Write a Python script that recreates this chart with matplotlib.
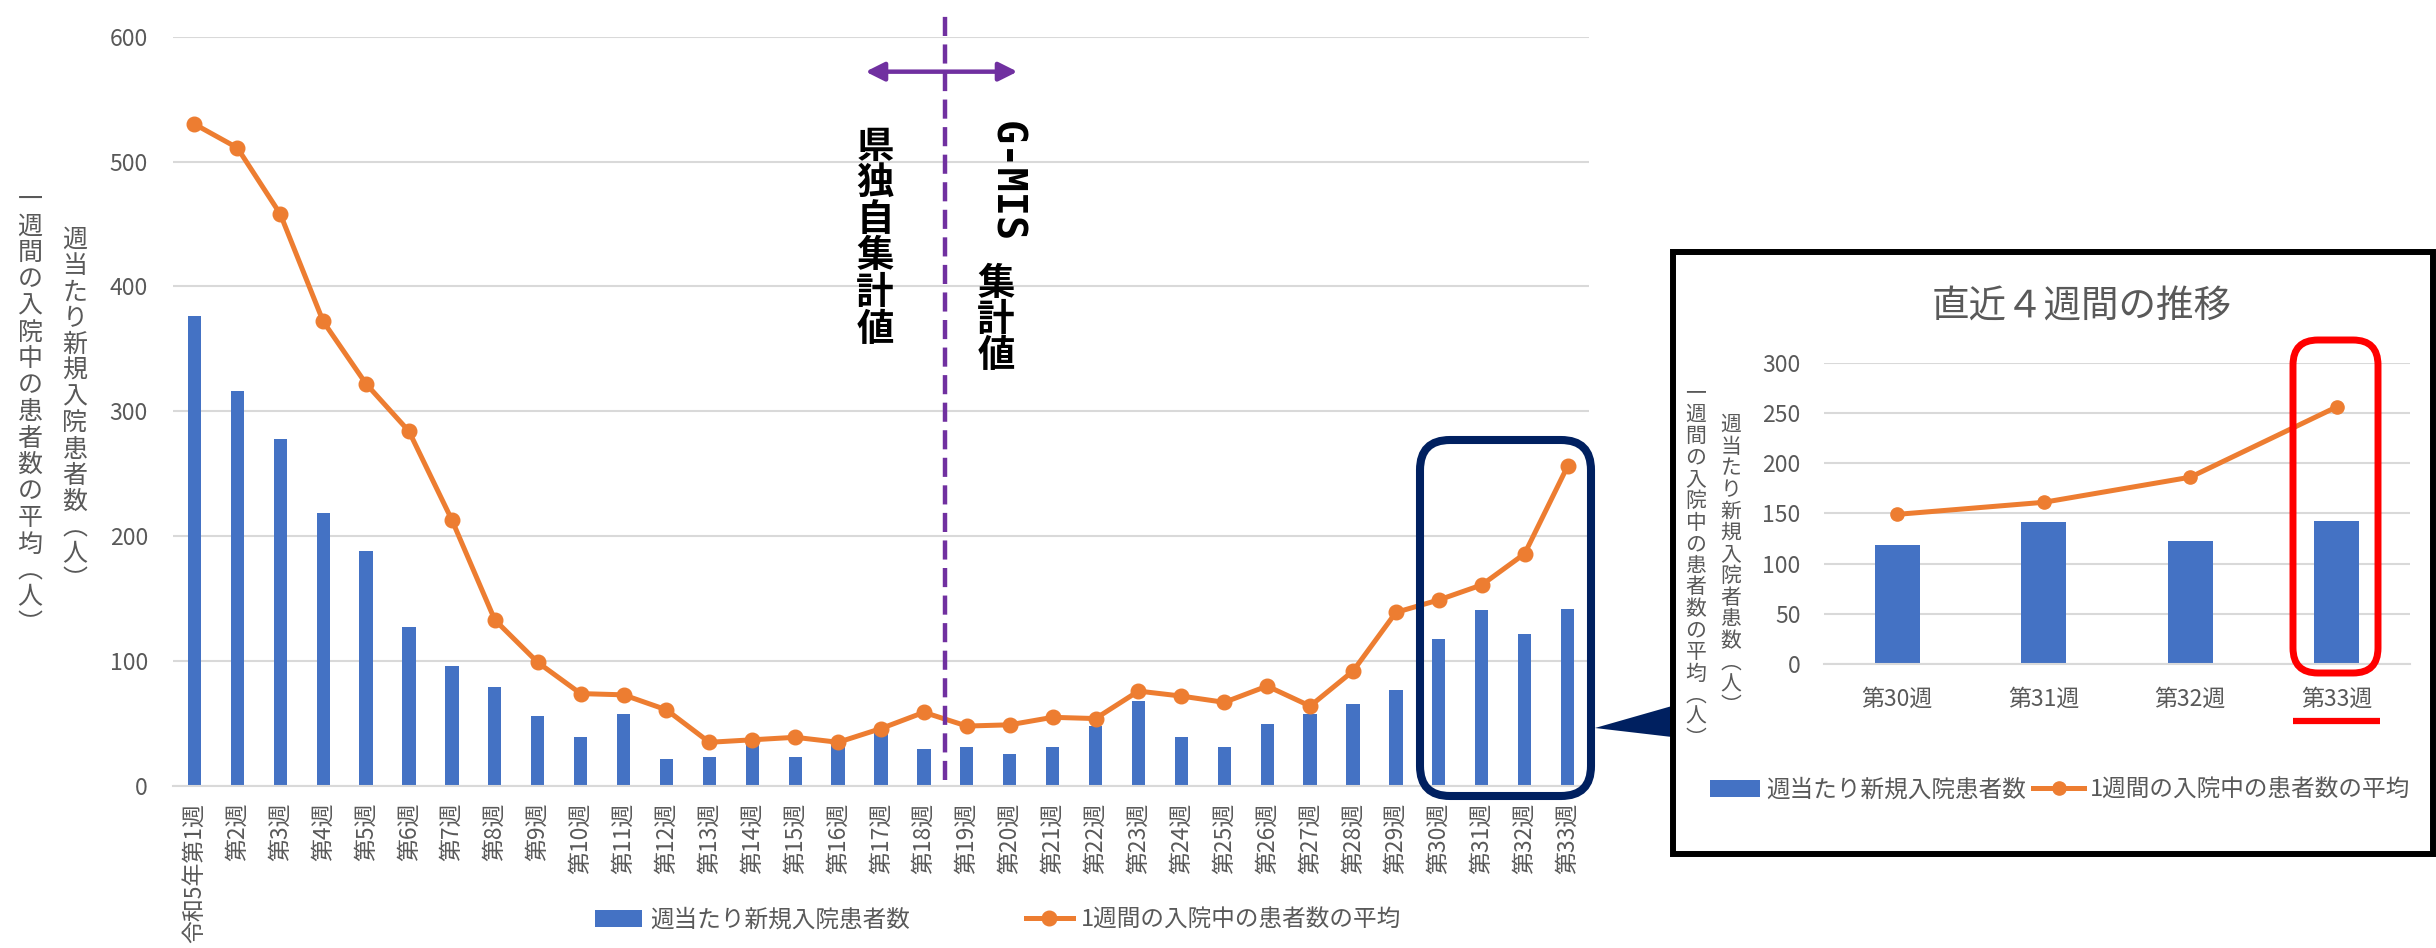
import matplotlib
matplotlib.use("Agg")
import matplotlib.pyplot as plt
from matplotlib.patches import FancyBboxPatch, Rectangle, Polygon
from matplotlib.lines import Line2D

plt.rcParams['font.family'] = ['Noto Sans CJK JP', 'DejaVu Sans']

# データ
weeks = ['令和5年第1週'] + ['第%d週' % i for i in range(2, 34)]
new_adm = [376, 316, 278, 219, 188, 127, 96, 79, 56, 39, 58, 22, 23, 34, 23, 33,
           43, 30, 31, 26, 31, 48, 68, 39, 31, 50, 58, 66, 77, 118, 141, 122, 142]
avg_inp = [530, 511, 458, 372, 322, 284, 213, 133, 99, 74, 73, 61, 35, 37, 39, 35,
           46, 59, 48, 49, 55, 54, 76, 72, 67, 80, 64, 92, 139, 149, 161, 186, 256]
bar_name = '週当たり新規入院患者数'
line_name = '1週間の入院中の患者数の平均'
ylab_bar = '週当たり新規入院患者数（人）'
ylab_line = '一週間の入院中の患者数の平均（人）'
ylab_bar_inset = '週当たり新規入院者患数（人）'   # 原図のまま
inset_title = '直近４週間の推移'
split_week = 17.5   # 第18週と第19週の間

BLUE = '#4472C4'
ORANGE = '#ED7D31'
GRAY = '#595959'
GRID = '#D9D9D9'
PURPLE = '#7030A0'
NAVY = '#002060'

W, H = 2436, 948
fig = plt.figure(figsize=(W / 100, H / 100), dpi=100)


def px_axes(x0, y0, x1, y1):
    # ピクセル(上原点)で軸を作る
    return fig.add_axes([x0 / W, 1 - y1 / H, (x1 - x0) / W, (y1 - y0) / H])


def style_ax(ax, size, ypad, xpad):
    for s in ['top', 'right', 'left']:
        ax.spines[s].set_visible(False)
    ax.spines['bottom'].set_color(GRID)
    ax.spines['bottom'].set_linewidth(1.5)
    ax.yaxis.grid(True, color=GRID, lw=1.5)
    ax.set_axisbelow(True)
    ax.tick_params(axis='y', length=0, pad=ypad, labelsize=size, labelcolor=GRAY)
    ax.tick_params(axis='x', length=0, pad=xpad, labelsize=size, labelcolor=GRAY)


# ---- メインのグラフ
ax = px_axes(173, 36.7, 1589, 786)
ax.set_zorder(1)
x = list(range(len(weeks)))
b1 = ax.bar(x, new_adm, width=0.31, color=BLUE, zorder=2, label=bar_name)
p1, = ax.plot(x, avg_inp, color=ORANGE, lw=3.6, marker='o', ms=10.5, zorder=3,
              clip_on=False, label=line_name)
ax.set_xlim(-0.5, len(weeks) - 0.5)
ax.set_ylim(0, 600)
ax.set_yticks(range(0, 601, 100))
ax.set_xticks(x)
ax.set_xticklabels(weeks, rotation=90)
style_ax(ax, 16.5, 18, 12)

# 集計方法の切替線
ax.plot([split_week, split_week], [5, 621], color=PURPLE, lw=3.2,
        linestyle=(0, (4.3, 1.9)), clip_on=False, zorder=4)
ax.annotate('', xy=(split_week - 1.86, 572), xytext=(split_week + 1.68, 572),
            arrowprops=dict(arrowstyle='<|-|>', color=PURPLE, lw=3.2,
                            mutation_scale=28, shrinkA=0, shrinkB=0),
            annotation_clip=False)

fig.legend([b1, p1], [bar_name, line_name], loc='center',
           bbox_to_anchor=(998 / W, 1 - 920 / H), ncol=2,
           frameon=False, fontsize=17, handlelength=2.0, handletextpad=0.35,
           columnspacing=4.9, labelcolor=GRAY)

# ---- 直近4週間
n4 = 4
ax2 = px_axes(1824, 362.7, 2410, 664)
ax2.set_zorder(2)
x2 = list(range(n4))
b2 = ax2.bar(x2, new_adm[-n4:], width=0.31, color=BLUE, zorder=2, label=bar_name)
p2, = ax2.plot(x2, avg_inp[-n4:], color=ORANGE, lw=3.6, marker='o', ms=9.5,
               zorder=3, clip_on=False, label=line_name)
ax2.set_xlim(-0.5, n4 - 0.5)
ax2.set_ylim(0, 300)
ax2.set_yticks(range(0, 301, 50))
ax2.set_xticks(x2)
ax2.set_xticklabels(weeks[-n4:])
style_ax(ax2, 16.5, 17, 17)

fig.legend([b2, p2], [bar_name, line_name], loc='center',
           bbox_to_anchor=(2060 / W, 1 - 790 / H), ncol=2,
           frameon=False, fontsize=17, handlelength=2.15, handletextpad=0.25,
           columnspacing=0.3, labelcolor=GRAY)

# ---- 注記用の重ね書き(ピクセル座標)
ov = fig.add_axes([0, 0, 1, 1])
ov.set_zorder(3)
ov.set_xlim(0, W)
ov.set_ylim(H, 0)
ov.axis('off')

vert = {'（': '︵', '）': '︶'}


def vtext(xc, y0, s, pitch, **kw):
    # 縦書き(一文字ずつ)
    for i, ch in enumerate(s):
        ov.text(xc, y0 + i * pitch, vert.get(ch, ch), ha='center', va='center', **kw)


vtext(30, 200, ylab_line, 26.5, fontsize=18, color=GRAY)
vtext(75, 240, ylab_bar, 26.2, fontsize=18, color=GRAY)

vtext(875, 146, '県独自集計値', 36.6, fontsize=27, fontweight='bold', color='black')
ov.text(1006, 182, 'G-MIS', rotation=-90, ha='center', va='center',
        fontsize=29, fontweight='bold', family='DejaVu Sans Mono', color='black')
vtext(996, 283, '集計値', 36, fontsize=27, fontweight='bold', color='black')

# 直近4週を囲む枠と吹き出し
ov.add_patch(FancyBboxPatch((1420, 440), 171, 356,
                            boxstyle='round,pad=0,rounding_size=30',
                            fc='none', ec=NAVY, lw=5.8))
ov.add_patch(Polygon([(1595, 728), (1672, 706), (1672, 737)], closed=True,
                     fc=NAVY, ec='none'))
ov.add_patch(Rectangle((1673, 252), 760, 602, fc='none', ec='black', lw=4.3))

ov.text(2082, 307, inset_title, ha='center', va='center', fontsize=27, color=GRAY)
vtext(1696, 393, ylab_line, 21.6, fontsize=15, color=GRAY)
vtext(1731, 425, ylab_bar_inset, 21.6, fontsize=15, color=GRAY)

ov.add_patch(FancyBboxPatch((2293, 340), 85, 333,
                            boxstyle='round,pad=0,rounding_size=25',
                            fc='none', ec='#FF0000', lw=5))
ov.add_line(Line2D([2293, 2380], [721, 721], color='#FF0000', lw=4.5,
                   solid_capstyle='butt'))

fig.savefig('out.png', dpi=100)
